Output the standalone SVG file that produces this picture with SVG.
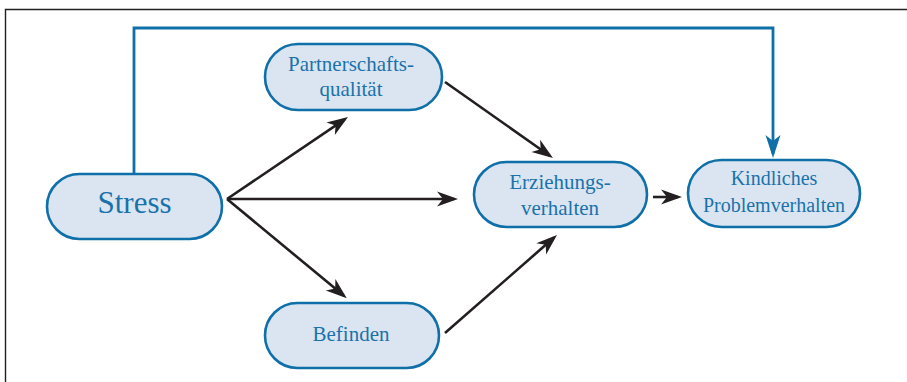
<svg xmlns="http://www.w3.org/2000/svg" width="907" height="382" viewBox="0 0 907 382">
<defs>
<style>
.node{fill:#dbe5f1;stroke:#0f70a9;stroke-width:2.6}
.lbl{font-family:'Liberation Serif','Times New Roman',Times,serif;fill:#1a72ab;text-anchor:middle}
.arr{stroke:#231f20;stroke-width:2.6;fill:none}
.blue{stroke:#0f70a9;stroke-width:2.8;fill:none}
.frame{stroke:#231f20;stroke-width:1.4;fill:none}
</style>
<marker id="ah" markerUnits="userSpaceOnUse" markerWidth="30" markerHeight="20" viewBox="-20 -10 30 20" refX="0" refY="0" orient="auto">
<path d="M4,0 L-17,-7.5 L-11,0 L-17,7.5 Z" fill="#231f20"/>
</marker>
<marker id="ahb" markerUnits="userSpaceOnUse" markerWidth="30" markerHeight="20" viewBox="-20 -10 30 20" refX="0" refY="0" orient="auto">
<path d="M4,0 L-19,-7.5 L-13,0 L-19,7.5 Z" fill="#0f70a9"/>
</marker>
</defs>
<rect width="907" height="382" fill="#ffffff"/>
<path class="frame" d="M5.5,382 V9.5 H907"/>
<g id="connectors">
<path class="blue" d="M134,174 V28 H773 V154" marker-end="url(#ahb)"/>
<line class="arr" x1="227" y1="199" x2="344.7" y2="119.3" marker-end="url(#ah)"/>
<line class="arr" x1="227" y1="199" x2="454" y2="199" marker-end="url(#ah)"/>
<line class="arr" x1="227" y1="199" x2="343.7" y2="295.6" marker-end="url(#ah)"/>
<line class="arr" x1="445" y1="82" x2="549.7" y2="155.7" marker-end="url(#ah)"/>
<line class="arr" x1="445" y1="333" x2="554" y2="237.6" marker-end="url(#ah)"/>
<line class="arr" x1="653" y1="197" x2="678" y2="197" marker-end="url(#ah)"/>
</g>
<g id="stress">
<rect class="node" x="47" y="174" width="175" height="65" rx="32.5"/>
<text class="lbl" font-family="Liberation Serif, serif" x="134.5" y="213" font-size="31">Stress</text>
</g>
<g id="partnerschaft">
<rect class="node" x="265" y="44" width="177" height="66" rx="33"/>
<text class="lbl" font-family="Liberation Serif, serif" x="351" y="71" font-size="21">Partnerschafts-</text>
<text class="lbl" font-family="Liberation Serif, serif" x="351" y="96" font-size="21">qualität</text>
</g>
<g id="befinden">
<rect class="node" x="265" y="303" width="174" height="65" rx="32.5"/>
<text class="lbl" font-family="Liberation Serif, serif" x="351" y="341" font-size="21">Befinden</text>
</g>
<g id="erziehung">
<rect class="node" x="474" y="162" width="173" height="65" rx="32.5"/>
<text class="lbl" font-family="Liberation Serif, serif" x="560" y="189" font-size="21">Erziehungs-</text>
<text class="lbl" font-family="Liberation Serif, serif" x="560" y="215" font-size="21">verhalten</text>
</g>
<g id="kindlich">
<rect class="node" x="688" y="160" width="172" height="67" rx="33.5"/>
<text class="lbl" font-family="Liberation Serif, serif" x="774" y="185" font-size="20">Kindliches</text>
<text class="lbl" font-family="Liberation Serif, serif" x="774" y="212" font-size="20">Problemverhalten</text>
</g>
</svg>
